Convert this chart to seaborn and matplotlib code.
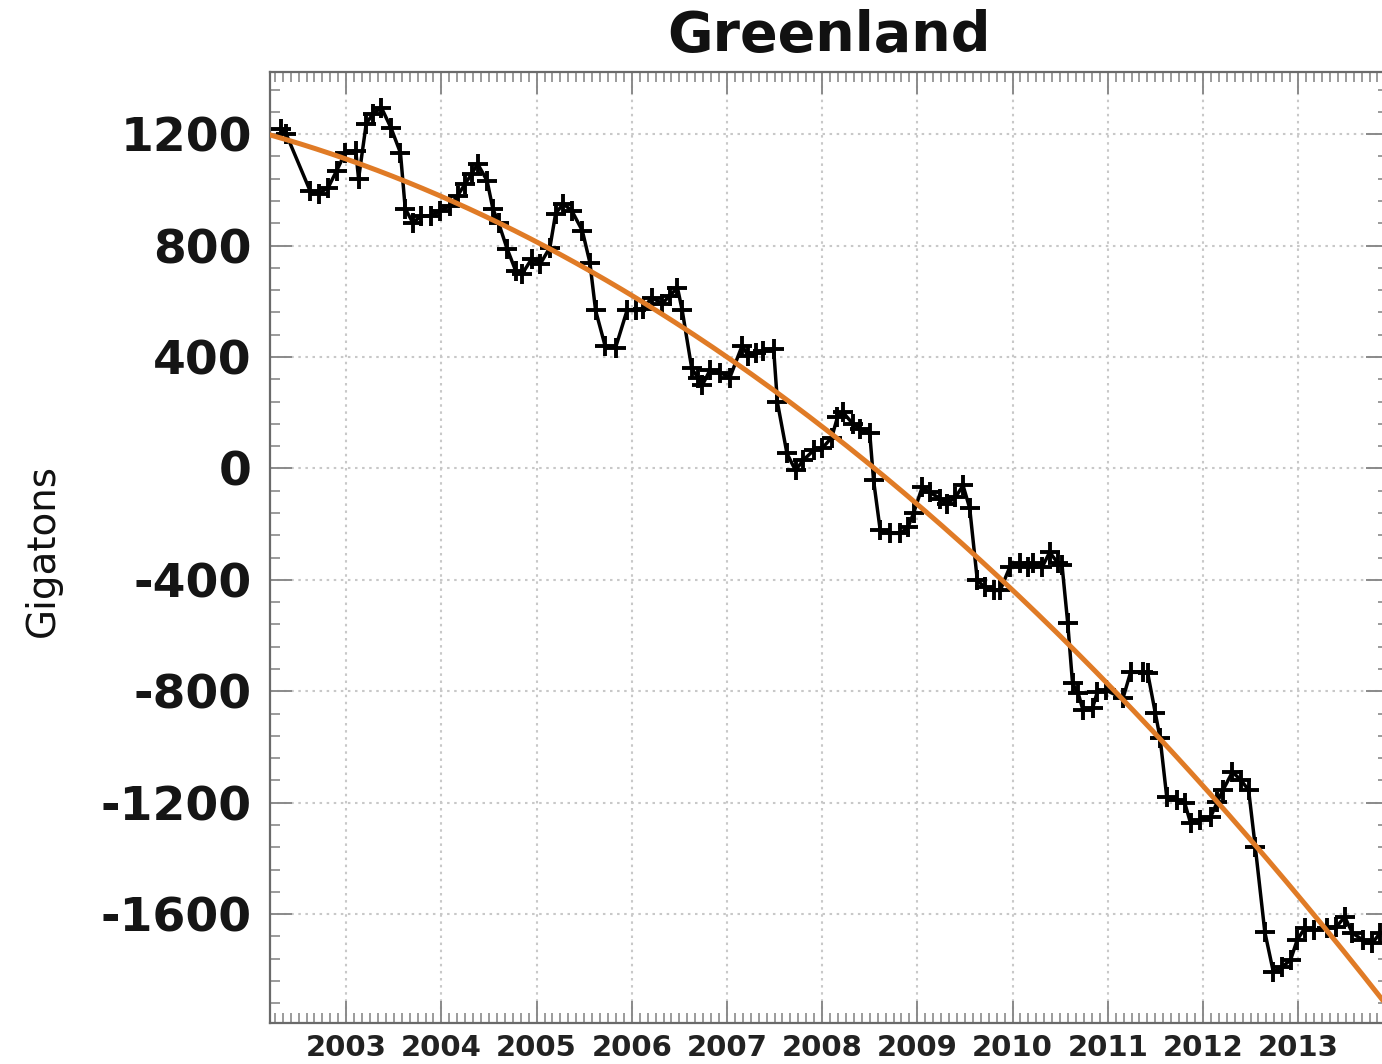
import numpy as np
import pandas as pd
import matplotlib
matplotlib.use("Agg")
import matplotlib.pyplot as plt
from matplotlib.ticker import FixedLocator, MultipleLocator
import seaborn as sns

# Monthly Greenland ice-mass anomaly (Gt)
years = [
    2002.31, 2002.37, 2002.62, 2002.71, 2002.81, 2002.90, 2002.99, 2003.10, 2003.13,
    2003.21, 2003.28, 2003.37, 2003.47, 2003.57, 2003.62, 2003.70, 2003.79, 2003.89,
    2003.99, 2004.09, 2004.17, 2004.25, 2004.32, 2004.38, 2004.48, 2004.54, 2004.60,
    2004.69, 2004.78, 2004.85, 2004.95, 2005.04, 2005.14, 2005.20, 2005.28, 2005.37,
    2005.48, 2005.56, 2005.62, 2005.72, 2005.83, 2005.95, 2006.04, 2006.12, 2006.21,
    2006.32, 2006.40, 2006.48, 2006.53, 2006.63, 2006.70, 2006.74, 2006.82, 2006.93,
    2007.03, 2007.16, 2007.22, 2007.30, 2007.38, 2007.49, 2007.53, 2007.63, 2007.72,
    2007.80, 2007.91, 2008.00, 2008.10, 2008.16, 2008.22, 2008.32, 2008.40, 2008.50,
    2008.54, 2008.61, 2008.71, 2008.82, 2008.90, 2008.96, 2009.05, 2009.13, 2009.24,
    2009.31, 2009.40, 2009.48, 2009.55, 2009.63, 2009.71, 2009.80, 2009.87, 2009.97,
    2010.08, 2010.16, 2010.22, 2010.31, 2010.39, 2010.48, 2010.52, 2010.58, 2010.63,
    2010.69, 2010.74, 2010.84, 2010.89, 2010.98, 2011.16, 2011.24, 2011.37, 2011.42,
    2011.50, 2011.55, 2011.62, 2011.73, 2011.81, 2011.87, 2011.97, 2012.08, 2012.15,
    2012.21, 2012.31, 2012.40, 2012.48, 2012.55, 2012.65, 2012.74, 2012.83, 2012.92,
    2012.99, 2013.07, 2013.17, 2013.30, 2013.40, 2013.49, 2013.57, 2013.68, 2013.78,
    2013.86,
]
mass_gt = [
    1220, 1200, 997, 986, 1008, 1069, 1133, 1141, 1040,
    1237, 1273, 1295, 1223, 1133, 933, 882, 907, 907,
    925, 943, 979, 1022, 1058, 1094, 1033, 933, 882,
    789, 710, 699, 753, 735, 793, 915, 950, 925,
    854, 739, 567, 440, 434, 567, 567, 574, 613,
    592, 620, 649, 567, 359, 323, 298, 352, 344,
    326, 441, 405, 416, 423, 430, 237, 54, -7,
    29, 65, 72, 111, 183, 201, 161, 143, 126,
    -43, -222, -233, -233, -212, -161, -68, -86, -108,
    -126, -104, -61, -143, -402, -427, -438, -438, -355,
    -341, -355, -341, -355, -301, -341, -348, -556, -771,
    -807, -868, -861, -803, -796, -825, -732, -732, -735,
    -879, -968, -1180, -1191, -1202, -1273, -1263, -1252, -1198,
    -1155, -1090, -1119, -1155, -1359, -1664, -1808, -1790, -1765,
    -1693, -1650, -1657, -1650, -1646, -1610, -1668, -1693, -1704,
    -1668,
]
year_ticks = list(range(2003, 2014))
gt_ticks = [-1600, -1200, -800, -400, 0, 400, 800, 1200]

sns.set_theme(style="white")
plt.rcParams["font.family"] = ["DejaVu Sans"]

fig = plt.figure(figsize=(13.82, 10.64), dpi=100)
ax = fig.add_axes([0.1954, 0.0385, 0.809, 0.8938])

df = pd.DataFrame({"year": years, "mass": mass_gt})

# quadratic trend fitted to the monthly series
coef = np.polyfit(df["year"] - 2008.0, df["mass"], 2)
trend_x = np.linspace(2002.2, 2014.2, 300)
trend = pd.DataFrame({"year": trend_x, "mass": np.polyval(coef, trend_x - 2008.0)})

sns.lineplot(data=df, x="year", y="mass", sort=False, color="black", lw=2.5,
             marker="+", markersize=15, markeredgewidth=2.8, markeredgecolor="black",
             ax=ax, zorder=3)
sns.lineplot(data=trend, x="year", y="mass", sort=False, color="#E07B26", lw=3.6,
             ax=ax, zorder=4)

ax.set_xlim(2002.2, 2013.945)
ax.set_ylim(-1991, 1423)

ax.xaxis.set_major_locator(FixedLocator(year_ticks))
ax.xaxis.set_minor_locator(MultipleLocator(1 / 12))
ax.yaxis.set_major_locator(FixedLocator(gt_ticks))
ax.yaxis.set_minor_locator(MultipleLocator(80))
ax.set_xticklabels([str(y) for y in year_ticks], fontweight="bold")
ax.set_yticklabels([str(v) for v in gt_ticks], fontweight="bold")

ax.tick_params(which="both", direction="in", top=True, right=True, bottom=True, left=True,
               color="#8a8a8a")
ax.tick_params(which="major", length=16, width=1.4)
ax.tick_params(which="minor", length=7.5, width=1.2)
ax.tick_params(axis="y", which="major", labelsize=34, pad=13, labelcolor="#151515")
ax.tick_params(axis="x", which="major", labelsize=21, pad=8, labelcolor="#222222")

ax.grid(True, which="major", color="#c8c8c8", linestyle=(0, (1.2, 2.2)), linewidth=1.5)
ax.set_axisbelow(True)

for s in ax.spines.values():
    s.set_color("#6a6a6a")
    s.set_linewidth(1.6)

ax.set_xlabel("")
ax.set_ylabel("Gigatons", fontsize=28, color="#111111")
ax.yaxis.set_label_coords(-0.1865, 0.497)
ax.set_title("Greenland", fontsize=40, fontweight="bold", pad=15, color="#111111")

fig.savefig("out.png", dpi=100, facecolor="white")
